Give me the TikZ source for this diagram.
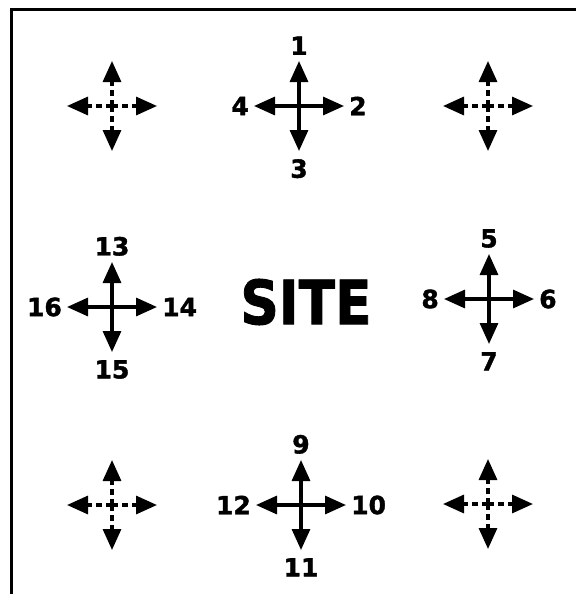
\documentclass[tikz,border=0pt]{standalone}
\usepackage{fontspec}
\setmainfont{DejaVu Sans}
\newfontfamily\heavyfont[FakeBold=1.5]{DejaVu Sans Bold}
\usetikzlibrary{arrows.meta}
\begin{document}
\begin{tikzpicture}[x=1pt,y=-1pt,
  arr/.style={line width=3.2pt,-{Triangle[length=21pt,width=18pt]}},
  darr/.style={arr,dash pattern=on 6pt off 4pt},
  lbl/.style={font=\heavyfont\fontsize{25}{25}\selectfont,inner sep=0pt},
  frame/.style={line width=3.4pt}]
\useasboundingbox (0,0) rectangle (576,594);
% frame (top and left edges only)
\coordinate (fbl) at (11.5,594);
\coordinate (ftl) at (11.5,9.5);
\coordinate (ftr) at (576,9.5);
\draw[frame] (fbl) -- (ftl) -- (ftr);
% dashed crosses
\foreach \n/\x/\y in {tl/112/106, tr/488/106, bl/112/505, br/488/504}{
  \coordinate (\n) at (\x,\y);
  \foreach \d/\dx/\dy in {u/0/-45, d/0/45, l/-45/0, r/45/0}{
    \coordinate (\n\d) at (\x+\dx,\y+\dy);
    \draw[darr] (\n) -- (\n\d);
  }
}
% solid crosses with labels
\foreach \n/\x/\y/\lu/\lr/\ld/\ll in {tm/299/106/1/2/3/4, mr/489/299/5/6/7/8, bm/301/505/9/10/11/12, ml/112/307/13/14/15/16}{
  \coordinate (\n) at (\x,\y);
  \foreach \d/\dx/\dy in {u/0/-45, d/0/45, l/-45/0, r/45/0}{
    \coordinate (\n\d) at (\x+\dx,\y+\dy);
    \draw[arr] (\n) -- (\n\d);
  }
  \node[lbl,anchor=south] (\n lu) at ([yshift=6pt]\n u) {\lu};
  \node[lbl,anchor=north] (\n ld) at ([yshift=-8pt]\n d) {\ld};
  \node[lbl,anchor=east] (\n ll) at ([xshift=-5pt]\n l) {\ll};
  \node[lbl,anchor=west] (\n lr) at ([xshift=5pt]\n r) {\lr};
}
% SITE
\node[font=\heavyfont\fontsize{61}{61}\selectfont,inner sep=0pt] (site) at (306,302) {\scalebox{0.875}[1]{SITE}};
\end{tikzpicture}
\end{document}
